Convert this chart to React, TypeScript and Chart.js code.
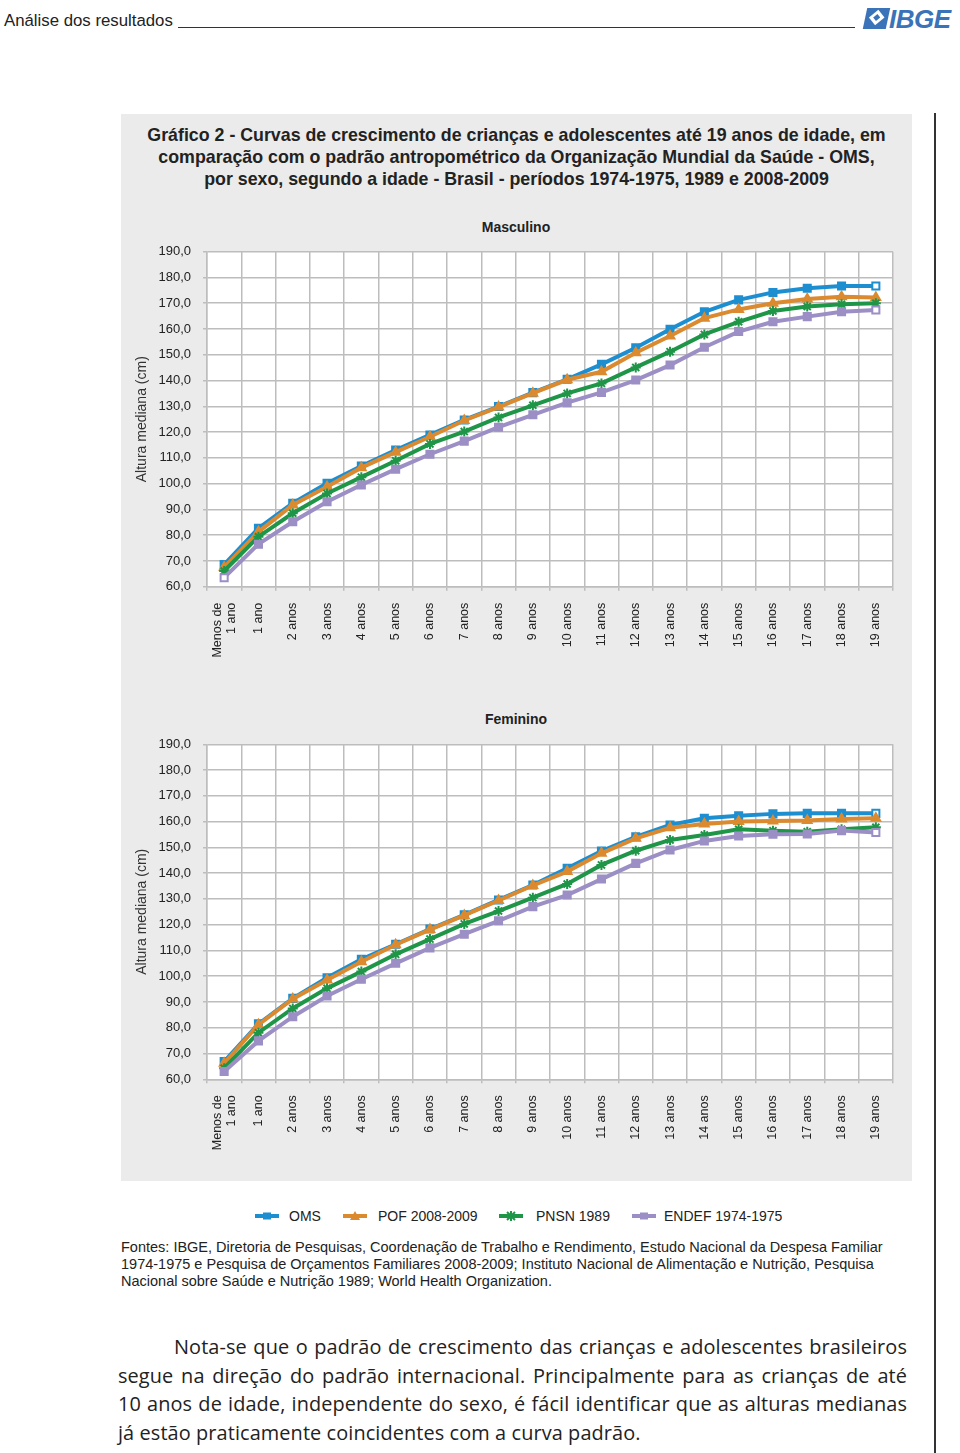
import React, { useEffect, useRef } from "react";
import { Chart, registerables } from "chart.js";

Chart.register(...registerables);

const FONT = "'Liberation Sans', Arial, sans-serif";

const categories: (string | string[])[] = [
  ["Menos de", "1 ano"], "1 ano", "2 anos", "3 anos", "4 anos", "5 anos", "6 anos", "7 anos", "8 anos", "9 anos",
  "10 anos", "11 anos", "12 anos", "13 anos", "14 anos", "15 anos", "16 anos", "17 anos", "18 anos", "19 anos",
];

const seriesNames = ["OMS", "POF 2008-2009", "PNSN 1989", "ENDEF 1974-1975"];
const seriesColors = ["#1d8fd1", "#dc8a2f", "#1f9548", "#9b8fc5"];
const seriesMarkers = ["rect", "triangle", "star", "rect"];

const yMin = 60;
const yMax = 190;
const yStep = 10;

const mascOMS = [68.6, 82.7, 92.4, 100.1, 106.8, 113.0, 118.9, 124.7, 129.9, 135.3, 140.5, 146.3, 152.7, 159.9, 166.7, 171.3, 174.2, 175.8, 176.7, 176.7];
const mascPOF = [67.5, 81.3, 91.7, 98.8, 106.2, 112.2, 118.2, 124.5, 129.7, 135.1, 140.3, 143.4, 150.8, 157.3, 164.2, 167.6, 170.0, 171.6, 172.5, 172.2];
const mascPNSN = [66.1, 79.4, 88.5, 96.2, 102.5, 108.9, 115.4, 120.2, 125.7, 130.4, 135.0, 138.9, 145.1, 151.2, 157.9, 162.8, 167.0, 168.7, 169.6, 170.0];
const mascENDEF = [63.5, 76.5, 85.2, 93.0, 99.5, 105.6, 111.4, 116.5, 121.9, 126.7, 131.4, 135.4, 140.2, 146.0, 152.9, 159.0, 162.8, 164.8, 166.7, 167.4];

const femOMS = [66.9, 81.5, 91.4, 99.4, 106.6, 112.4, 118.3, 123.8, 129.6, 135.4, 141.9, 148.6, 154.1, 158.7, 161.3, 162.3, 163.0, 163.2, 163.2, 163.2];
const femPOF = [66.2, 81.2, 91.2, 98.5, 105.6, 112.2, 118.1, 123.6, 129.4, 135.2, 140.6, 147.7, 153.5, 157.6, 159.1, 160.0, 160.2, 160.4, 161.0, 161.3];
const femPNSN = [64.3, 78.1, 87.5, 95.3, 101.8, 108.5, 114.4, 120.3, 125.3, 130.5, 135.8, 143.2, 148.7, 152.9, 154.8, 157.0, 156.5, 156.1, 157.0, 157.8];
const femENDEF = [63.0, 74.9, 84.3, 92.3, 98.8, 105.0, 111.0, 116.3, 121.5, 127.0, 131.5, 137.7, 143.8, 149.0, 152.5, 154.4, 155.1, 155.2, 156.5, 155.8];

const whiteArea = {
  id: "whiteArea",
  beforeDraw(chart: any) {
    const { ctx, chartArea } = chart;
    if (!chartArea) return;
    ctx.save();
    ctx.fillStyle = "#ffffff";
    ctx.fillRect(chartArea.left, chartArea.top, chartArea.right - chartArea.left, chartArea.bottom - chartArea.top);
    ctx.restore();
  },
};

// Draws the rotated category labels centred on each tick of the x scale
const xLabels = {
  id: "xLabels",
  afterDraw(chart: any) {
    const { ctx } = chart;
    const xs = chart.scales.x;
    const lh = 14;
    ctx.save();
    ctx.fillStyle = "#222";
    ctx.font = `12.5px ${FONT}`;
    ctx.textAlign = "right";
    ctx.textBaseline = "middle";
    const labels = chart.data.labels as (string | string[])[];
    labels.forEach((lab, i) => {
      const lines = Array.isArray(lab) ? lab : [lab];
      const x = xs.getPixelForValue(i);
      const y = xs.top + 16;
      ctx.save();
      ctx.translate(x, y);
      ctx.rotate(-Math.PI / 2);
      lines.forEach((ln, j) => {
        ctx.fillText(ln, 0, (j - (lines.length - 1) / 2) * lh);
      });
      ctx.restore();
    });
    ctx.restore();
  },
};

type PanelProps = {
  title: string;
  data: number[][];
  hollow: number[][];
  top: number;
  width: number;
  height: number;
  plotTopOffset: number;
  plotBottomOffset: number;
};

function GrowthChart(p: PanelProps) {
  const ref = useRef<HTMLCanvasElement>(null);
  useEffect(() => {
    if (!ref.current) return;
    const chart = new Chart(ref.current, {
      type: "line",
      data: {
        labels: categories,
        datasets: p.data.map((vals, i) => ({
          label: seriesNames[i],
          data: vals,
          borderColor: seriesColors[i],
          backgroundColor: seriesColors[i],
          borderWidth: 4,
          pointStyle: seriesMarkers[i] as any,
          pointRadius: 5,
          pointBorderWidth: 2,
          pointBorderColor: seriesColors[i],
          pointBackgroundColor: vals.map((_, j) => (p.hollow[i].includes(j) ? "#ffffff" : seriesColors[i])),
          tension: 0,
          fill: false,
          order: 4 - i,
        })),
      },
      options: {
        animation: false,
        responsive: false,
        layout: { padding: { left: 0, right: 18, top: p.plotTopOffset, bottom: 0 } },
        plugins: {
          legend: { display: false },
          tooltip: { enabled: false },
          title: { display: false },
        },
        scales: {
          x: {
            type: "category",
            offset: true,
            grid: { offset: true, color: "#bdbdbd", lineWidth: 1.5, tickLength: 4 },
            border: { color: "#bdbdbd", width: 1.5 },
            ticks: { display: false, autoSkip: false },
            afterFit: (s: any) => {
              s.height = p.height - p.plotBottomOffset;
            },
          },
          y: {
            min: yMin,
            max: yMax,
            grid: { color: "#bdbdbd", lineWidth: 1.5, tickLength: 4 },
            border: { color: "#bdbdbd", width: 1.5 },
            ticks: {
              stepSize: yStep,
              padding: 12,
              color: "#222",
              font: { family: FONT, size: 13 },
              callback: (v: any) => Number(v).toFixed(1).replace(".", ","),
            },
            title: {
              display: true,
              text: "Altura mediana (cm)",
              color: "#333",
              font: { family: FONT, size: 14 },
              padding: { top: 13, bottom: 0 },
            },
            afterFit: (s: any) => {
              s.width = 86;
            },
          },
        },
      },
      plugins: [whiteArea, xLabels],
    });
    return () => chart.destroy();
  }, []);
  return (
    <>
      <div style={{ position: "absolute", left: 121, top: p.top + p.plotTopOffset - 34, width: 790, textAlign: "center", fontSize: 14, fontWeight: "bold", color: "#222", lineHeight: "18px" }}>
        {p.title}
      </div>
      <div style={{ position: "absolute", left: 121, top: p.top, width: p.width, height: p.height }}>
        <canvas ref={ref} width={p.width} height={p.height} style={{ display: "block" }} />
      </div>
    </>
  );
}

function LegendMarker({ i }: { i: number }) {
  const c = seriesColors[i];
  const m = seriesMarkers[i];
  return (
    <svg width={26} height={12} style={{ display: "block" }}>
      <line x1={1} y1={6} x2={25} y2={6} stroke={c} strokeWidth={4} />
      {m === "rect" && <rect x={9} y={2.5} width={8} height={7} fill={c} />}
      {m === "triangle" && <polygon points="13,1 18,10 8,10" fill={c} />}
      {m === "star" && (
        <g stroke={c} strokeWidth={2}>
          <line x1={9} y1={2} x2={17} y2={10} />
          <line x1={17} y1={2} x2={9} y2={10} />
          <line x1={13} y1={1} x2={13} y2={11} />
        </g>
      )}
    </svg>
  );
}

const legendPos = [
  { mx: 254, tx: 289 },
  { mx: 342, tx: 378 },
  { mx: 498, tx: 536 },
  { mx: 631, tx: 664 },
];

const paraLines = [
  "Nota-se que o padrão de crescimento das crianças e adolescentes brasileiros",
  "segue na direção do padrão internacional. Principalmente para as crianças de até",
  "10 anos de idade, independente do sexo, é fácil identificar que as alturas medianas",
  "já estão praticamente coincidentes com a curva padrão.",
];

const sourceLines = [
  "Fontes: IBGE, Diretoria de Pesquisas, Coordenação de Trabalho e Rendimento, Estudo Nacional da Despesa Familiar",
  "1974-1975 e Pesquisa de Orçamentos Familiares 2008-2009; Instituto Nacional de Alimentação e Nutrição, Pesquisa",
  "Nacional sobre Saúde e Nutrição 1989; World Health Organization.",
];

const titleLines = [
  "Gráfico 2 - Curvas de crescimento de crianças e adolescentes até 19 anos de idade, em",
  "comparação com o padrão antropométrico da Organização Mundial da Saúde - OMS,",
  "por sexo, segundo a idade - Brasil - períodos 1974-1975, 1989 e 2008-2009",
];

export default function App() {
  return (
    <div style={{ position: "absolute", left: 0, top: 0, width: 960, height: 1453, background: "#fff", fontFamily: FONT, overflow: "hidden" }}>
      {/* Header */}
      <div style={{ position: "absolute", left: 4, top: 11, fontSize: 16.8, color: "#222", lineHeight: "20px", whiteSpace: "nowrap" }}>
        Análise dos resultados
      </div>
      <div style={{ position: "absolute", left: 178, top: 27, width: 677, height: 1, background: "#333" }} />
      <div style={{ position: "absolute", left: 865, top: 8, width: 23, height: 21, background: "#3b73b9", transform: "skewX(-12deg)" }}>
        <div style={{ position: "absolute", left: 6, top: 4, width: 11, height: 11, background: "#fff", transform: "rotate(45deg)" }} />
        <div style={{ position: "absolute", left: 9, top: 7, width: 5, height: 5, background: "#3b73b9", transform: "rotate(45deg)" }} />
      </div>
      <div style={{ position: "absolute", left: 889, top: 4, fontSize: 26, fontWeight: "bold", fontStyle: "italic", color: "#3b73b9", lineHeight: "30px", letterSpacing: -0.5 }}>
        IBGE
      </div>

      {/* Right vertical rule */}
      <div style={{ position: "absolute", left: 934, top: 113, width: 2, height: 1340, background: "#333" }} />

      {/* Gray panel */}
      <div style={{ position: "absolute", left: 121, top: 114, width: 791, height: 1067, background: "#ebebeb" }} />

      {titleLines.map((t, i) => (
        <div key={i} style={{ position: "absolute", left: 121, top: 124 + i * 22, width: 791, textAlign: "center", fontSize: 17.8, fontWeight: "bold", color: "#222", lineHeight: "22px", whiteSpace: "nowrap" }}>
          {t}
        </div>
      ))}

      <GrowthChart
        title="Masculino"
        data={[mascOMS, mascPOF, mascPNSN, mascENDEF]}
        hollow={[[19], [], [], [0, 19]]}
        top={205}
        width={790}
        height={470}
        plotTopOffset={46.7}
        plotBottomOffset={381.7}
      />
      <GrowthChart
        title="Feminino"
        data={[femOMS, femPOF, femPNSN, femENDEF]}
        hollow={[[19], [], [], [19]]}
        top={700}
        width={790}
        height={470}
        plotTopOffset={44.3}
        plotBottomOffset={379.3}
      />

      {/* Legend */}
      {legendPos.map((lp, i) => (
        <React.Fragment key={i}>
          <div style={{ position: "absolute", left: lp.mx, top: 1210 }}>
            <LegendMarker i={i} />
          </div>
          <div style={{ position: "absolute", left: lp.tx, top: 1207, fontSize: 14, color: "#222", lineHeight: "18px", whiteSpace: "nowrap" }}>
            {seriesNames[i]}
          </div>
        </React.Fragment>
      ))}

      {/* Sources */}
      {sourceLines.map((t, i) => (
        <div key={i} style={{ position: "absolute", left: 121, top: 1239 + i * 17, fontSize: 14.5, color: "#222", lineHeight: "17px", whiteSpace: "nowrap" }}>
          {t}
        </div>
      ))}

      {/* Paragraph */}
      {paraLines.map((t, i) => {
        const last = i === paraLines.length - 1;
        return (
          <div
            key={i}
            style={{
              position: "absolute",
              left: i === 0 ? 174 : 118,
              top: 1333 + i * 28.7,
              width: i === 0 ? 733 : 789,
              fontFamily: "'Open Sans', 'Noto Sans', sans-serif",
              fontSize: 19.9,
              letterSpacing: 0.1,
              color: "#222",
              lineHeight: "27px",
              whiteSpace: "nowrap",
              textAlign: last ? "left" : "justify",
              textAlignLast: last ? "left" : "justify",
            } as React.CSSProperties}
          >
            {t}
          </div>
        );
      })}
    </div>
  );
}
